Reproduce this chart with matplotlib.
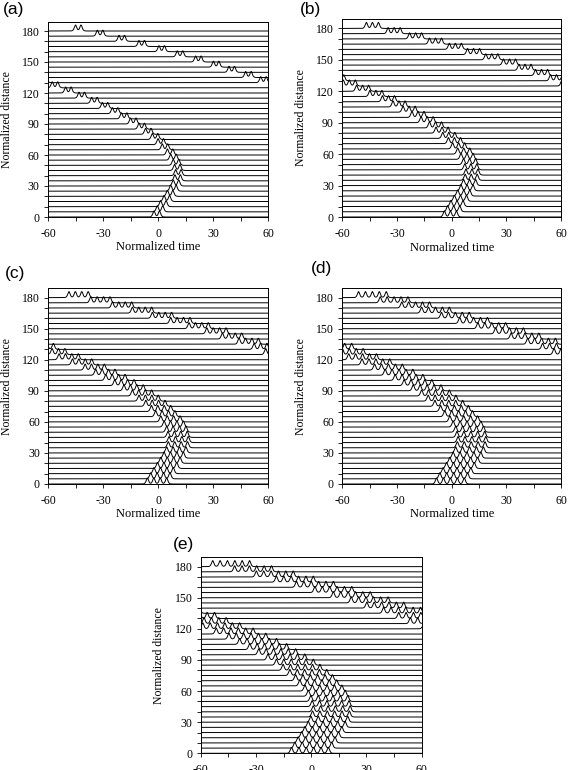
import numpy as np
import matplotlib.pyplot as plt
from matplotlib.ticker import MultipleLocator

plt.rcParams["axes.unicode_minus"] = False

# distance of each trace (normalized)
z_levels = [0, 5, 10, 15, 20, 25, 30, 35, 40, 45, 50, 55, 60, 65, 70, 75, 80, 85, 90,
            95, 100, 105, 110, 115, 120, 125, 130, 135, 140, 145, 150, 155, 160, 165,
            170, 175, 180]
# centre of the pulse train at each distance (wraps at +-60)
train_center = [-0.7, 1.1, 2.9, 4.8, 6.6, 8.4, 9.8, 10.7, 11.1, 10.5, 9.8, 8.4, 6.6,
                3.8, 1.5, -1.6, -5.3, -8.9, -13.5, -18.5, -23.4, -28.9, -34.7, -41.6,
                -48.9, -56.2, 57.5, 49.3, 40.2, 31.7, 22.0, 12.0, 2.0, -8.9, -19.8,
                -31.6, -43.5]

panel_labels = ["(a)", "(b)", "(c)", "(d)", "(e)"]
n_pulses = [2, 3, 4, 5, 6]
pulse_spacing = [3.0, 3.3, 3.5, 3.8, 4.0]

x_ticks = [-60, -30, 0, 30, 60]
y_ticks = [0, 30, 60, 90, 120, 150, 180]

W, H = 571, 770
# axes boxes in pixels: left, top, right, bottom
boxes = [(48, 21.7, 268, 217),
         (342.3, 19, 561, 217),
         (48.3, 288.3, 268.3, 484),
         (342.3, 288.3, 561, 484),
         (200.7, 557.3, 421.7, 753.3)]
label_pos = [(3, 2), (300, 2), (5, 266), (311, 261), (173, 537)]

amp = 5.8
width = 0.85
t = np.linspace(-60, 60, 2401)

fig = plt.figure(figsize=(W / 100, H / 100), dpi=100)
fig.patch.set_facecolor("white")

for i in range(5):
    l, tp, r, b = boxes[i]
    ax = fig.add_axes([l / W, 1 - b / H, (r - l) / W, (b - tp) / H])
    n = n_pulses[i]
    offs = (np.arange(n) - (n - 1) / 2) * pulse_spacing[i]
    for z, tc in zip(z_levels, train_center):
        y = np.zeros_like(t)
        for o in offs:
            d = (t - tc - o + 60) % 120 - 60
            y += 1 / np.cosh(d / width) ** 2
        ax.plot(t, z + amp * y, color="black", lw=0.7)

    ax.set_xlim(-60, 60)
    ax.set_ylim(0, 189)
    ax.set_xticks(x_ticks)
    ax.set_yticks(y_ticks)
    ax.xaxis.set_minor_locator(MultipleLocator(15))
    ax.yaxis.set_minor_locator(MultipleLocator(10))
    ax.tick_params(which="both", direction="out", length=3, width=0.6,
                   labelsize=8.5)
    ax.tick_params(axis="x", pad=5)
    ax.tick_params(axis="y", pad=3)
    for lab in ax.get_xticklabels() + ax.get_yticklabels():
        lab.set_family("Liberation Serif")
    for sp in ax.spines.values():
        sp.set_linewidth(0.7)
    if i < 4:
        ax.set_xlabel("Normalized time", family="Liberation Serif", fontsize=9)
        ax.xaxis.set_label_coords(0.5, -0.125)
    ax.set_ylabel("Normalized distance", family="Liberation Serif", fontsize=8.5)
    ax.yaxis.set_label_coords(-0.16, 0.5)

    lx, ly = label_pos[i]
    fig.text(lx / W, 1 - ly / H, panel_labels[i], ha="left", va="top",
             family="Liberation Sans", fontsize=12.5)

fig.savefig("out.png", dpi=100)
